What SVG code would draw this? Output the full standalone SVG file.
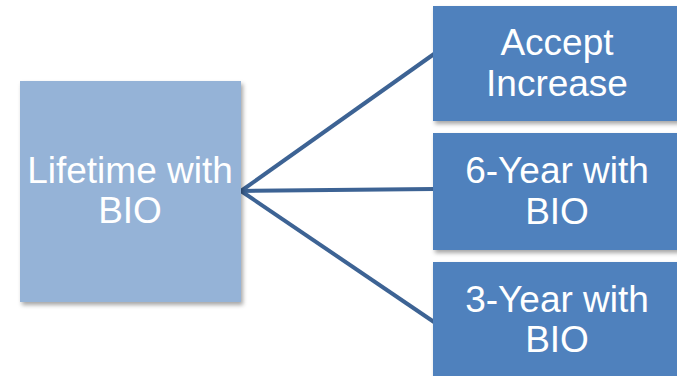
<svg xmlns="http://www.w3.org/2000/svg" width="677" height="376" viewBox="0 0 677 376">
<defs>
<filter id="sh" x="-10%" y="-10%" width="130%" height="130%">
<feDropShadow dx="2" dy="3" stdDeviation="2" flood-color="#000" flood-opacity="0.35"/>
</filter>
<style>
.lt{fill:#95b3d7;filter:url(#sh)}
.dk{fill:#4f81bd;filter:url(#sh)}
.t{font-family:"Liberation Sans",Arial,sans-serif;font-size:37px;fill:#fff;text-anchor:middle}
.c{stroke:#3d6394;stroke-width:4;fill:none}
</style>
</defs>
<rect width="677" height="376" fill="#fff"/>
<g id="connectors">
<line class="c" x1="241" y1="191" x2="434" y2="54"/>
<line class="c" x1="241" y1="191" x2="434" y2="189"/>
<line class="c" x1="241" y1="191" x2="434" y2="322"/>
</g>
<g id="n-lifetime">
<rect class="lt" x="20" y="81" width="221" height="221"/>
<text class="t" x="130" y="183">Lifetime with</text>
<text class="t" x="130" y="223">BIO</text>
</g>
<g id="n-accept">
<rect class="dk" x="433" y="6" width="250" height="115"/>
<text class="t" x="557" y="55">Accept</text>
<text class="t" x="557" y="96">Increase</text>
</g>
<g id="n-6year">
<rect class="dk" x="433" y="133" width="250" height="117"/>
<text class="t" x="557" y="183">6-Year with</text>
<text class="t" x="557" y="224">BIO</text>
</g>
<g id="n-3year">
<rect class="dk" x="433" y="262" width="250" height="120"/>
<text class="t" x="557" y="312">3-Year with</text>
<text class="t" x="557" y="352">BIO</text>
</g>
</svg>
